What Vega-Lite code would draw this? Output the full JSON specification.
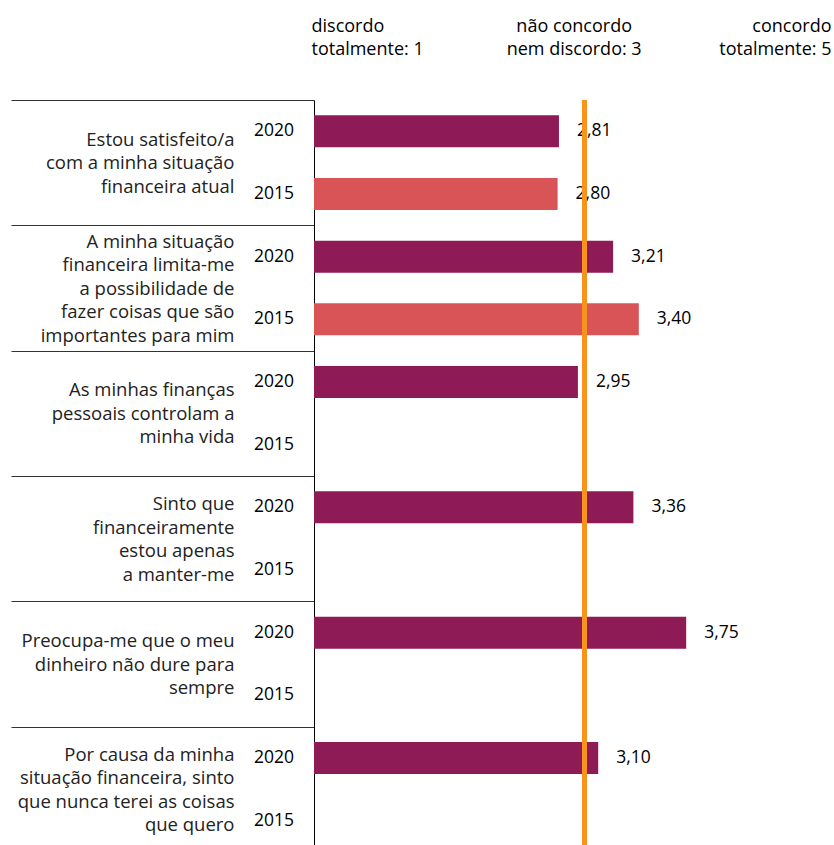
{
  "$schema": "https://vega.github.io/schema/vega-lite/v6.json",
  "background": "white",
  "padding": {"left": 10, "top": 17, "right": 0, "bottom": 0},
  "config": {
    "view": {"stroke": null},
    "font": "Open Sans",
    "locale": {"number": {"decimal": ",", "thousands": ".", "grouping": [3], "currency": ["", " €"]}}
  },
  "spacing": 0,
  "datasets": {
    "scores": [
      {"cat": "Estou satisfeito/a|com a minha situação|financeira atual", "year": "2020", "value": 2.81},
      {"cat": "Estou satisfeito/a|com a minha situação|financeira atual", "year": "2015", "value": 2.80},
      {"cat": "A minha situação|financeira limita-me|a possibilidade de|fazer coisas que são|importantes para mim", "year": "2020", "value": 3.21},
      {"cat": "A minha situação|financeira limita-me|a possibilidade de|fazer coisas que são|importantes para mim", "year": "2015", "value": 3.40},
      {"cat": "As minhas finanças|pessoais controlam a|minha vida", "year": "2020", "value": 2.95},
      {"cat": "As minhas finanças|pessoais controlam a|minha vida", "year": "2015", "value": null},
      {"cat": "Sinto que|financeiramente|estou apenas|a manter-me", "year": "2020", "value": 3.36},
      {"cat": "Sinto que|financeiramente|estou apenas|a manter-me", "year": "2015", "value": null},
      {"cat": "Preocupa-me que o meu|dinheiro não dure para|sempre", "year": "2020", "value": 3.75},
      {"cat": "Preocupa-me que o meu|dinheiro não dure para|sempre", "year": "2015", "value": null},
      {"cat": "Por causa da minha|situação financeira, sinto|que nunca terei as coisas|que quero", "year": "2020", "value": 3.10},
      {"cat": "Por causa da minha|situação financeira, sinto|que nunca terei as coisas|que quero", "year": "2015", "value": null}
    ]
  },
  "vconcat": [
    {
      "width": 517,
      "height": 32,
      "mark": {"type": "rule", "color": "#F7941D", "strokeWidth": 4},
      "encoding": {
        "x": {
          "datum": 3,
          "type": "quantitative",
          "scale": {"domain": [1, 4.82], "nice": false, "zero": false},
          "axis": {
            "orient": "top",
            "values": [1, 3, 4.82],
            "title": null,
            "domain": false,
            "ticks": false,
            "grid": false,
            "labelFlush": true,
            "labelOverlap": false,
            "labelFontSize": 18,
            "labelLineHeight": 23.5,
            "labelColor": "#000000",
            "labelPadding": 24,
            "labelLimit": 300,
            "labelOffset": {
              "condition": [
                {"test": "datum.value == 3", "value": -11},
                {"test": "datum.value == 1", "value": -3}
              ],
              "value": 0
            },
            "labelExpr": "datum.value == 1 ? ['discordo', 'totalmente: 1'] : datum.value == 3 ? ['não concordo', 'nem discordo: 3'] : ['concordo', 'totalmente: 5']"
          }
        }
      }
    },
    {
      "width": 517,
      "height": 752,
      "data": {"name": "scores"},
      "encoding": {
        "y": {
          "field": "cat",
          "type": "nominal",
          "sort": null,
          "scale": {"paddingInner": 0, "paddingOuter": 0},
          "axis": {
            "title": null,
            "tickBand": "extent",
            "tickSize": 303,
            "tickColor": "#333333",
            "tickWidth": 1,
            "domainColor": "#000000",
            "domainWidth": 1,
            "labelExpr": "split(datum.label, '|')",
            "labelPadding": -223,
            "labelFontSize": 18.5,
            "labelLineHeight": 23.5,
            "labelColor": "#222222",
            "labelLimit": 300,
            "labelAlign": "right",
            "labelBaseline": "middle",
            "labelOffset": {
              "condition": [
                {"test": "length(split(datum.label, '|')) == 5", "value": -47},
                {"test": "length(split(datum.label, '|')) == 4", "value": -35}
              ],
              "value": -23.5
            }
          }
        },
        "yOffset": {
          "field": "year",
          "type": "nominal",
          "sort": ["2020", "2015"],
          "scale": {"paddingInner": 0.49, "paddingOuter": 0.245}
        }
      },
      "layer": [
        {
          "mark": {"type": "bar"},
          "encoding": {
            "x": {
              "field": "value",
              "type": "quantitative",
              "scale": {"domain": [1, 4.82], "nice": false, "zero": false},
              "axis": null
            },
            "x2": {"datum": 1},
            "color": {
              "field": "year",
              "type": "nominal",
              "scale": {"domain": ["2020", "2015"], "range": ["#8E1A56", "#D95457"]},
              "legend": null
            }
          }
        },
        {
          "mark": {"type": "text", "align": "right", "baseline": "middle", "dx": -20, "fontSize": 17.5, "color": "#000000"},
          "encoding": {
            "x": {"datum": 1, "type": "quantitative"},
            "text": {"field": "year"}
          }
        },
        {
          "transform": [{"filter": "isValid(datum.value)"}],
          "mark": {"type": "text", "align": "left", "baseline": "middle", "dx": 18, "fontSize": 17.5, "color": "#000000"},
          "encoding": {
            "x": {"field": "value", "type": "quantitative"},
            "text": {"field": "value", "type": "quantitative", "format": ".2f"}
          }
        },
        {
          "mark": {"type": "rule", "color": "#F7941D", "strokeWidth": 4},
          "encoding": {
            "x": {"datum": 3, "type": "quantitative"},
            "y": null,
            "yOffset": null
          }
        }
      ]
    }
  ]
}
